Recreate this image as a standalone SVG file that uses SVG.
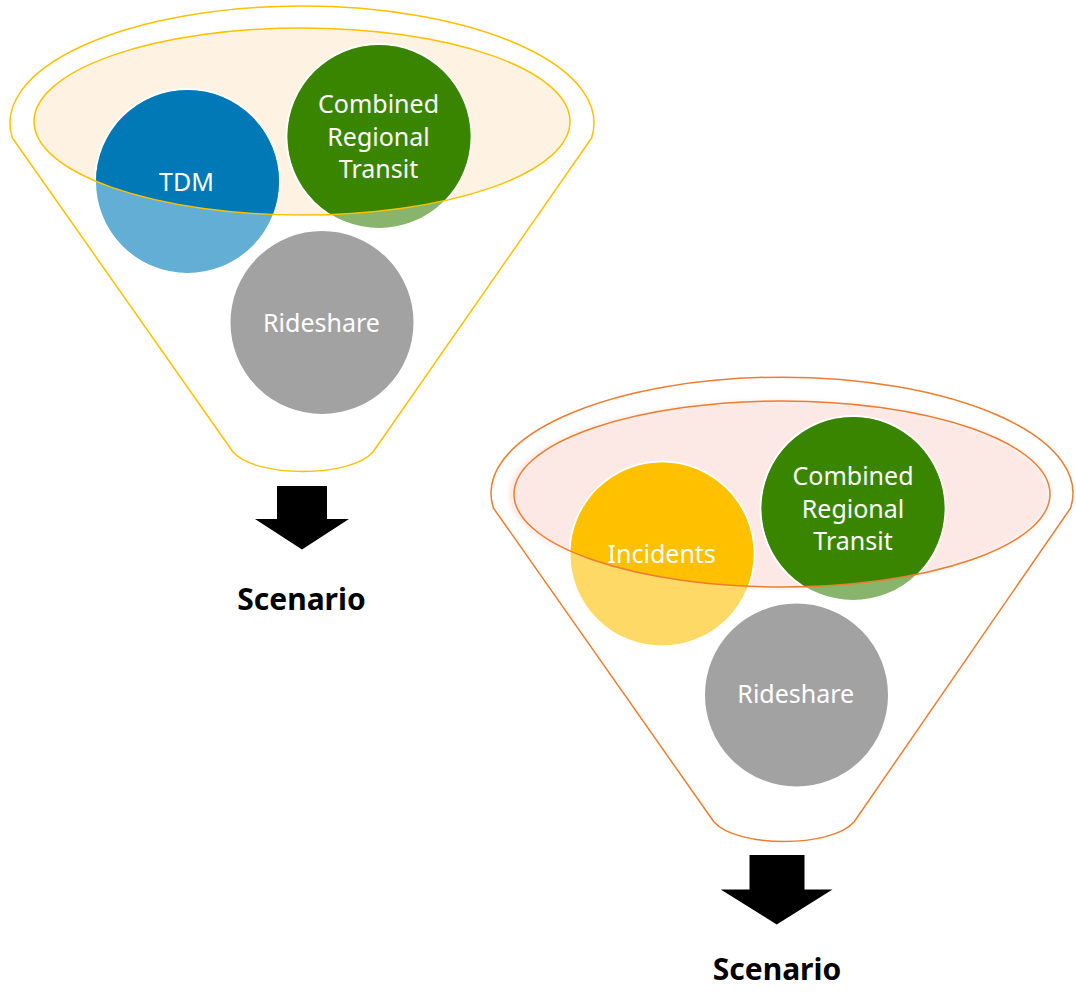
<svg xmlns="http://www.w3.org/2000/svg" width="1076" height="995" viewBox="0 0 1076 995">
<style>
.funnel1{fill:#ffffff;stroke:#FFC000;stroke-width:1.5;stroke-linejoin:round}
.funnel2{fill:#ffffff;stroke:#ED7D31;stroke-width:1.5;stroke-linejoin:round}
.rim1{fill:none;stroke:#FFC000;stroke-width:1.5}
.rim2{fill:none;stroke:#ED7D31;stroke-width:1.5}
.c{stroke:#ffffff;stroke-width:2}
.lbl{font-family:"Noto Sans","Open Sans",sans-serif;font-size:25px;fill:#ffffff;text-anchor:middle}
.scen{font-family:"Noto Sans","Open Sans",sans-serif;font-size:30px;font-weight:bold;fill:#000000;text-anchor:middle}
.arrow{fill:#000000}
</style>
<defs>
<clipPath id="clip1"><ellipse cx="302" cy="121.5" rx="268" ry="93.5"/></clipPath>
<clipPath id="clip2"><ellipse cx="782" cy="494" rx="268" ry="93"/></clipPath>
<filter id="soft" x="-10%" y="-10%" width="120%" height="120%"><feGaussianBlur stdDeviation="2"/></filter>
</defs>

<g id="funnel-1">
<path class="funnel1" d="M 12.4,138 A 292,117 0 1 1 591.6,138 L 373,452 C 350,478 256,478 233,452 Z"/>
<ellipse cx="302" cy="121.5" rx="268" ry="93.5" fill="#FEF2E2"/>
</g>
<g id="tdm">
<circle class="c" cx="187.5" cy="181.5" r="92.5" fill="#62AED5"/>
<circle cx="187.5" cy="181.5" r="91.5" fill="#0079B6" clip-path="url(#clip1)"/>
<text class="lbl" x="186.5" y="190.5">TDM</text>
</g>
<g id="transit-1">
<circle class="c" cx="379" cy="136.5" r="92.5" fill="#88B56B"/>
<circle cx="379" cy="136.5" r="91.5" fill="#3A8500" clip-path="url(#clip1)"/>
<text class="lbl" x="378.5" y="113.3">Combined</text>
<text class="lbl" x="378.5" y="145.5">Regional</text>
<text class="lbl" x="378.5" y="178">Transit</text>
</g>
<g id="rideshare-1">
<circle class="c" cx="322" cy="322.5" r="92.5" fill="#A3A2A3"/>
<text class="lbl" x="321.5" y="331.5">Rideshare</text>
</g>
<ellipse class="rim1" cx="302" cy="121.5" rx="268" ry="93.5"/>

<g id="funnel-2">
<path class="funnel2" d="M 493.4,508 A 291,116 0 1 1 1070.6,508 L 854,822 C 831,848 737,848 714,822 Z"/>
<ellipse cx="779" cy="494" rx="270" ry="94" fill="#FCE9E5" filter="url(#soft)"/>
</g>
<g id="incidents">
<circle class="c" cx="662" cy="554" r="92.5" fill="#FFD966"/>
<circle cx="662" cy="554" r="91.5" fill="#FFC000" clip-path="url(#clip2)"/>
<text class="lbl" x="661.7" y="563.3">Incidents</text>
</g>
<g id="transit-2">
<circle class="c" cx="853" cy="508.5" r="92.5" fill="#88B56B"/>
<circle cx="853" cy="508.5" r="91.5" fill="#3A8500" clip-path="url(#clip2)"/>
<text class="lbl" x="853" y="485">Combined</text>
<text class="lbl" x="853" y="518">Regional</text>
<text class="lbl" x="853" y="550">Transit</text>
</g>
<g id="rideshare-2">
<circle class="c" cx="796.5" cy="695" r="92.5" fill="#A3A2A3"/>
<text class="lbl" x="795.8" y="703.3">Rideshare</text>
</g>
<ellipse class="rim2" cx="782" cy="494" rx="268" ry="93"/>

<g id="connectors">
<path class="arrow" d="M 277,486 L 327,486 L 327,519 L 349,519 L 302,549.5 L 255,519 L 277,519 Z"/>
<path class="arrow" d="M 749.5,855 L 804.5,855 L 804.5,889.5 L 832.5,889.5 L 776.7,924.5 L 720.7,889.5 L 749.5,889.5 Z"/>
</g>
<g id="scenario-1"><text class="scen" x="301.5" y="610">Scenario</text></g>
<g id="scenario-2"><text class="scen" x="777" y="980">Scenario</text></g>
</svg>
